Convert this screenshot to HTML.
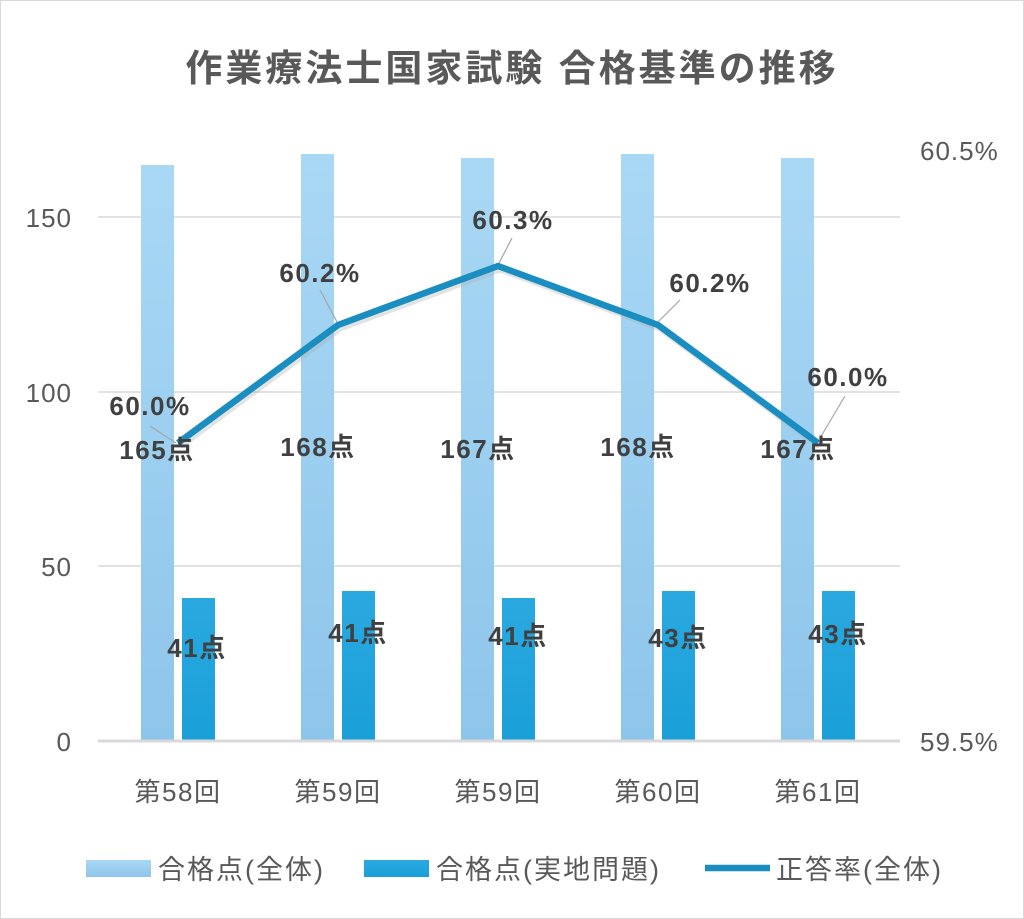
<!DOCTYPE html>
<html><head><meta charset="utf-8"><style>
body{margin:0;background:#fff;}
svg{display:block;font-family:"Liberation Sans","Noto Sans CJK JP",sans-serif;}
</style></head><body>
<svg width="1024" height="919" viewBox="0 0 1024 919">
<defs>
<linearGradient id="gl" x1="0" y1="0" x2="0" y2="1"><stop offset="0" stop-color="#a9d8f5"/><stop offset="1" stop-color="#8ec5ea"/></linearGradient>
<linearGradient id="gd" x1="0" y1="0" x2="0" y2="1"><stop offset="0" stop-color="#2aa9e0"/><stop offset="1" stop-color="#1a9fd8"/></linearGradient>
</defs>
<rect x="0.5" y="0.5" width="1023" height="918" fill="#fff" stroke="#d9d9d9"/>
<text x="512" y="81" text-anchor="middle" font-size="37" font-weight="bold" fill="#595959" letter-spacing="3">作業療法士国家試験 合格基準の推移</text>
<g stroke="#d9d9d9" stroke-width="1.5">
<line x1="98" y1="217" x2="900" y2="217"/><line x1="98" y1="392" x2="900" y2="392"/><line x1="98" y1="566" x2="900" y2="566"/>
</g>
<g font-size="26" fill="#595959" text-anchor="end" letter-spacing="1">
<text x="72" y="227">150</text><text x="72" y="402">100</text><text x="72" y="576">50</text><text x="72" y="751">0</text>
</g>
<g font-size="26" fill="#595959" letter-spacing="1">
<text x="920" y="160">60.5%</text><text x="920" y="751">59.5%</text>
</g>
<g fill="url(#gl)">
<rect x="141" y="165" width="33" height="576"/><rect x="301" y="154" width="33" height="587"/><rect x="461" y="158" width="33" height="583"/><rect x="621" y="154" width="33" height="587"/><rect x="781" y="158" width="33" height="583"/>
</g>
<g fill="url(#gd)">
<rect x="182" y="598" width="33" height="143"/><rect x="342" y="591" width="33" height="150"/><rect x="502" y="598" width="33" height="143"/><rect x="662" y="591" width="33" height="150"/><rect x="822" y="591" width="33" height="150"/>
</g>
<line x1="98" y1="741" x2="900" y2="741" stroke="#d9d9d9" stroke-width="3"/>
<g stroke="#a6a6a6" stroke-width="1.2">
<line x1="150" y1="426" x2="176" y2="443"/><line x1="320" y1="290" x2="337" y2="322"/><line x1="512" y1="238" x2="498" y2="265"/><line x1="680" y1="300" x2="658" y2="322"/><line x1="845" y1="396" x2="820" y2="438"/>
</g>
<polyline points="178,443 338,325 498,266 658,325 818,443" fill="none" stroke="#b0b0b0" stroke-width="7" opacity="0.35" transform="translate(2,3)"/>
<polyline points="178,443 338,325 498,266 658,325 818,443" fill="none" stroke="#1a8ec0" stroke-width="6.5" stroke-linejoin="round"/>
<g font-size="26" font-weight="bold" fill="#404040" text-anchor="middle" letter-spacing="1.5">
<text x="150" y="415">60.0%</text><text x="320" y="282">60.2%</text><text x="513" y="229">60.3%</text><text x="710" y="292">60.2%</text><text x="848" y="386">60.0%</text>
<text x="157" y="459">165点</text><text x="318" y="456">168点</text><text x="478" y="458">167点</text><text x="638" y="456">168点</text><text x="798" y="458">167点</text>
<text x="197" y="657">41点</text><text x="358" y="642">41点</text><text x="518" y="645">41点</text><text x="678" y="647">43点</text><text x="838" y="643">43点</text>
</g>
<g font-size="26" fill="#595959" text-anchor="middle" letter-spacing="1.5">
<text x="178" y="801">第58回</text><text x="338" y="801">第59回</text><text x="498" y="801">第59回</text><text x="658" y="801">第60回</text><text x="818" y="801">第61回</text>
</g>
<rect x="86" y="860" width="65" height="17" fill="url(#gl)"/>
<rect x="364" y="860" width="65" height="17" fill="url(#gd)"/>
<line x1="705" y1="868" x2="770" y2="868" stroke="#1a8ec0" stroke-width="6.5"/>
<g font-size="27" fill="#595959" letter-spacing="2">
<text x="158" y="879">合格点(全体)</text><text x="436" y="879">合格点(実地問題)</text><text x="776" y="879">正答率(全体)</text>
</g>
</svg>
</body></html>
